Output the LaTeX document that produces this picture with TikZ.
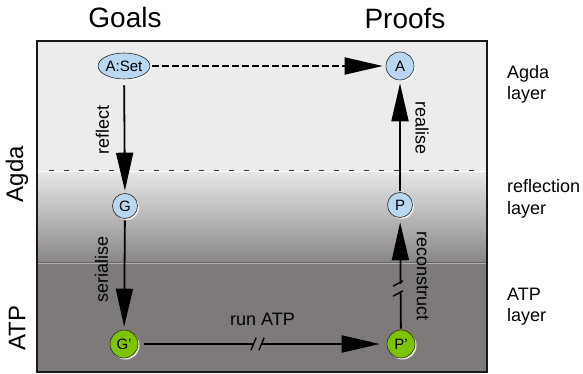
\documentclass[tikz,border=0pt]{standalone}
\usepackage{fontspec}
\setmainfont{Liberation Sans}
\usetikzlibrary{arrows.meta,shapes.geometric,shadows}
\definecolor{bgLight}{RGB}{236,236,236}
\definecolor{bgGradTop}{RGB}{233,233,233}
\definecolor{bgGradBot}{RGB}{138,134,134}
\definecolor{bgDark}{RGB}{127,122,122}
\definecolor{nodeBlue}{RGB}{185,215,240}
\definecolor{nodeGreen}{RGB}{125,196,0}
\begin{document}
\begin{tikzpicture}[x=1pt,y=-1pt,
  nd/.style={circle, draw=black!85, line width=0.6pt, inner sep=0pt, minimum size=25pt,
    font=\fontsize{15}{17}\selectfont,
    drop shadow={fill=white, opacity=0.85, shadow xshift=1.5pt, shadow yshift=-1.5pt}},
  bluenode/.style={nd, fill=nodeBlue},
  greennode/.style={nd, fill=nodeGreen, minimum size=28pt},
  arr/.style={line width=1.8pt, -{Triangle[length=38pt 0 0,width=17pt 0]}},
  lbl/.style={font=\fontsize{18}{20}\selectfont, inner sep=0pt},
  side/.style={font=\fontsize{18}{21}\selectfont, align=left, inner sep=0pt, anchor=base west},
  colhead/.style={font=\fontsize{28}{32}\selectfont, inner sep=0pt, anchor=base},
  rowhead/.style={font=\fontsize{24}{28}\selectfont, inner sep=0pt, rotate=90},
  brk/.style={line width=1.4pt}
]
\useasboundingbox (0,0) rectangle (583,374);
% background layers
\fill[bgLight] (37,41) rectangle (487,170);
\shade[top color=bgGradTop, bottom color=bgGradBot] (37,170) rectangle (487,262);
\fill[bgDark] (37,262) rectangle (487,372);
\draw[white, line width=0.8pt] (37,171.2) -- (487,171.2);
\draw[black!30!bgDark, line width=0.4pt, draw opacity=0.6] (37,262) -- (487,262);
\draw[white!40!bgDark, line width=0.6pt] (37,262.8) -- (487,262.8);
\draw[black!80, line width=0.7pt, dash pattern=on 5pt off 10pt] (49,170) -- (476,170);
\draw[black!90, line width=2.5pt] (37,41) rectangle (487,372);

% headings
\node[colhead] (goals) at (125,28) {Goals};
\node[colhead] (proofs) at (405,29) {Proofs};
\node[rowhead] (agda) at (17,174) {Agda};
\node[rowhead] (atp) at (17,328) {ATP};
\node[side] (agdalayer) at (507,100) {Agda\\layer};
\node[side] (refllayer) at (507,214) {reflection\\layer};
\node[side] (atplayer) at (507,321) {ATP\\layer};

% nodes
\node[bluenode, ellipse, minimum width=42pt, minimum height=26pt] (Aset) at (124,66) {A:Set};
\node[bluenode, minimum size=28pt] (A) at (400,66) {A};
\node[bluenode] (G) at (125,206) {G};
\node[bluenode] (P) at (400,205) {P};
\node[greennode] (Gp) at (124,344) {G'};
\node[greennode] (Pp) at (401,344) {P'};

% connectors
\draw[arr, dash pattern=on 7pt off 3pt, line width=2pt, shorten <=2pt, shorten >=3pt] (Aset) -- (A);
\draw[arr, shorten <=6pt, shorten >=2.5pt] (Aset) -- (G)
  node[lbl, pos=0.445, xshift=-22pt, rotate=90] {reflect};
\draw[arr, shorten <=1.5pt, shorten >=3pt] (G) -- (Gp)
  node[lbl, pos=0.46, xshift=-23pt, rotate=90] {serialise};
\draw[arr, shorten <=1pt, shorten >=3pt] (P) -- (A)
  node[lbl, pos=0.57, xshift=22pt, rotate=-90] {realise};
\draw[arr, shorten <=1pt, shorten >=4.5pt] (Pp) -- (P)
  node[lbl, pos=0.476, xshift=22pt, rotate=-90] {reconstruct};
\draw[arr, shorten <=6pt, shorten >=7pt] (Gp) -- (Pp)
  node[lbl, midway, above=17pt] {run ATP};

% break marks
\fill[bgDark] (253.6,341) rectangle (261.4,347);
\draw[brk] (250.9,350.3) -- (256.1,337.7);
\draw[brk] (258.9,350.3) -- (264.1,337.7);
\fill[bgDark] (396,284) rectangle (404,293);
\draw[brk] (393,286.2) -- (403,280.8);
\draw[brk] (393,296.2) -- (403,290.8);
\end{tikzpicture}
\end{document}
